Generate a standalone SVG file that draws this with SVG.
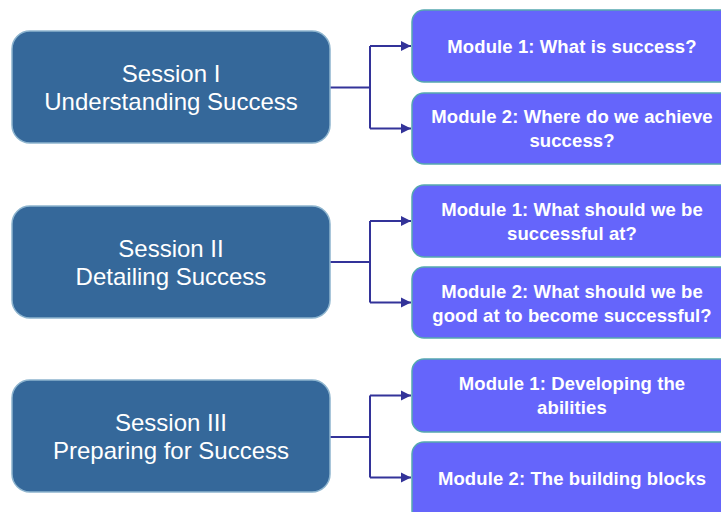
<svg xmlns="http://www.w3.org/2000/svg" width="721" height="512" viewBox="0 0 721 512">
<style>
.session rect{fill:#35689A;stroke:#8DB4CE;stroke-width:1.5}
.module rect{fill:#6565FB;stroke:#55A8B0;stroke-width:1.5}
.st{font-family:"Liberation Sans",Arial,sans-serif;font-size:24px;fill:#fff;text-anchor:middle}
.mt{font-family:"Liberation Sans",Arial,sans-serif;font-size:18.5px;font-weight:bold;fill:#fff;text-anchor:middle;letter-spacing:0.1px}
.conn path{fill:none;stroke:#333399;stroke-width:2}
</style>
<defs>
<marker id="ah" markerUnits="userSpaceOnUse" markerWidth="11" markerHeight="11" refX="10" refY="5.5" orient="auto">
<path d="M0,0.5 L10,5.5 L0,10.5 Z" fill="#333399"/>
</marker>
</defs>
<rect width="721" height="512" fill="#fff"/>
<g class="conn" id="connectors">
<path d="M330,87.5 H370 M370,46 V128.5"/>
<path d="M370,46 H411" marker-end="url(#ah)"/>
<path d="M370,128.5 H411" marker-end="url(#ah)"/>
<path d="M330,262 H370 M370,221 V302.5"/>
<path d="M370,221 H411" marker-end="url(#ah)"/>
<path d="M370,302.5 H411" marker-end="url(#ah)"/>
<path d="M330,437 H370 M370,395.5 V477.5"/>
<path d="M370,395.5 H411" marker-end="url(#ah)"/>
<path d="M370,477.5 H411" marker-end="url(#ah)"/>
</g>
<g id="session1" class="session"><rect x="12" y="31" width="318" height="112" rx="18"/><text class="st" x="171" y="82">Session I</text><text class="st" x="171" y="110">Understanding Success</text></g>
<g id="session2" class="session"><rect x="12" y="206" width="318" height="112" rx="18"/><text class="st" x="171" y="257">Session II</text><text class="st" x="171" y="285">Detailing Success</text></g>
<g id="session3" class="session"><rect x="12" y="380" width="318" height="112" rx="18"/><text class="st" x="171" y="431">Session III</text><text class="st" x="171" y="459">Preparing for Success</text></g>
<g id="s1m1" class="module"><rect x="412" y="10" width="320" height="72" rx="12"/><text class="mt" x="572" y="53">Module 1: What is success?</text></g>
<g id="s1m2" class="module"><rect x="412" y="93" width="320" height="71" rx="12"/><text class="mt" x="572" y="123">Module 2: Where do we achieve</text><text class="mt" x="572" y="147">success?</text></g>
<g id="s2m1" class="module"><rect x="412" y="185" width="320" height="72" rx="12"/><text class="mt" x="572" y="216">Module 1: What should we be</text><text class="mt" x="572" y="240">successful at?</text></g>
<g id="s2m2" class="module"><rect x="412" y="267" width="320" height="71" rx="12"/><text class="mt" x="572" y="298">Module 2: What should we be</text><text class="mt" x="572" y="322">good at to become successful?</text></g>
<g id="s3m1" class="module"><rect x="412" y="359" width="320" height="73" rx="12"/><text class="mt" x="572" y="390">Module 1: Developing the</text><text class="mt" x="572" y="414">abilities</text></g>
<g id="s3m2" class="module"><rect x="412" y="442" width="320" height="80" rx="12"/><text class="mt" x="572" y="485">Module 2: The building blocks</text></g>
</svg>
